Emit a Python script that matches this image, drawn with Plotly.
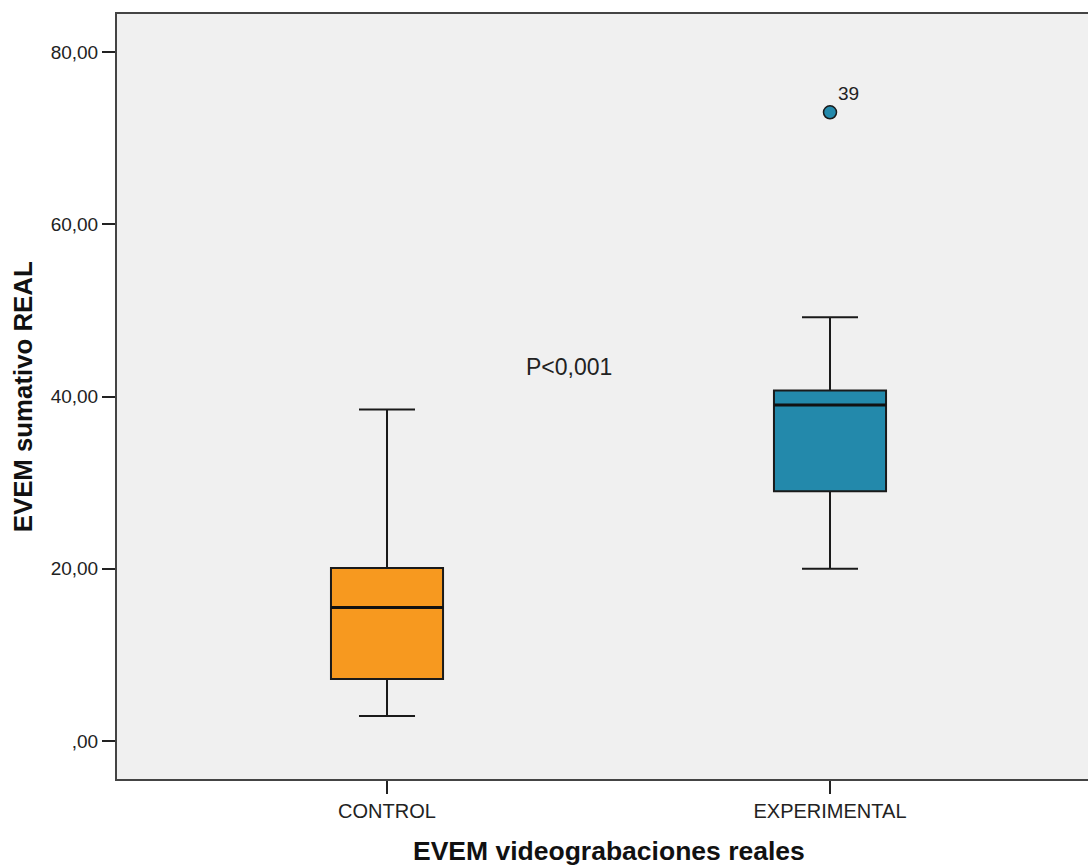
import plotly.graph_objects as go

# ---- data ----
groups = ["CONTROL", "EXPERIMENTAL"]
group_pos = [0, 1]
q1 = [7.2, 29.0]
median = [15.5, 39.0]
q3 = [20.1, 40.7]
lower_whisker = [2.9, 20.0]
upper_whisker = [38.5, 49.2]
outlier_group = [1]
outlier_values = [73.0]
outlier_ids = ["39"]
y_ticks = [0, 20, 40, 60, 80]
y_tick_labels = [",00", "20,00", "40,00", "60,00", "80,00"]
colors = ["#F7991F", "#2389AB"]

FONT = "Liberation Sans, Arial, sans-serif"
BOX_W = 0.253

fig = go.Figure()
for i in range(len(groups)):
    fig.add_trace(go.Box(
        x=[group_pos[i]],
        q1=[q1[i]], median=[median[i]], q3=[q3[i]],
        lowerfence=[lower_whisker[i]], upperfence=[upper_whisker[i]],
        width=BOX_W, whiskerwidth=0.5,
        fillcolor=colors[i],
        line=dict(color="#1a1a1a", width=2),
        boxpoints=False, showlegend=False, hoverinfo="skip",
    ))
    # thicker median line, as in the reference
    fig.add_trace(go.Scatter(
        x=[group_pos[i] - BOX_W / 2, group_pos[i] + BOX_W / 2],
        y=[median[i], median[i]],
        mode="lines", line=dict(color="#111111", width=3),
        showlegend=False, hoverinfo="skip",
    ))

fig.add_trace(go.Scatter(
    x=[group_pos[g] for g in outlier_group], y=outlier_values,
    mode="markers",
    marker=dict(size=13, color=colors[1], line=dict(color="#1a1a1a", width=1.5)),
    showlegend=False, hoverinfo="skip",
))

for g, v, lab in zip(outlier_group, outlier_values, outlier_ids):
    fig.add_annotation(x=group_pos[g], y=v, text=lab, showarrow=False,
                       xanchor="left", yanchor="middle", xshift=6, yshift=19,
                       font=dict(family=FONT, size=19, color="#222222"))

fig.add_annotation(x=0.41, y=43.4, text="P<0,001", showarrow=False,
                   xanchor="center", yanchor="middle",
                   font=dict(family=FONT, size=23, color="#222222"))

fig.add_annotation(xref="paper", yref="paper", x=0.5067, y=-0.0945,
                   text="<b>EVEM videograbaciones reales</b>", showarrow=False,
                   xanchor="center", yanchor="middle",
                   font=dict(family=FONT, size=26.5, color="#111111"))
fig.add_annotation(xref="paper", yref="paper", x=-0.0968, y=0.499,
                   text="<b>EVEM sumativo REAL</b>", showarrow=False, textangle=-90,
                   xanchor="center", yanchor="middle",
                   font=dict(family=FONT, size=25.8, color="#111111"))

fig.update_layout(
    width=1088, height=866,
    margin=dict(l=117, r=0, t=14, b=87),
    paper_bgcolor="white", plot_bgcolor="#F0F0F0",
    xaxis=dict(
        range=[-0.6095, 1.5824], tickvals=group_pos, ticktext=groups,
        ticks="outside", ticklen=13, tickwidth=2, tickcolor="#222222",
        showline=True, linecolor="#444444", linewidth=2, mirror=True,
        showgrid=False, zeroline=False,
        tickfont=dict(family=FONT, size=20, color="#222222"),
    ),
    yaxis=dict(
        range=[-4.41, 84.41], tickvals=y_ticks, ticktext=y_tick_labels,
        ticks="outside", ticklen=13, tickwidth=2, tickcolor="#222222",
        showline=True, linecolor="#444444", linewidth=2,
        showgrid=False, zeroline=False,
        tickfont=dict(family=FONT, size=19, color="#222222"),
    ),
)

fig.write_html("out.html")
